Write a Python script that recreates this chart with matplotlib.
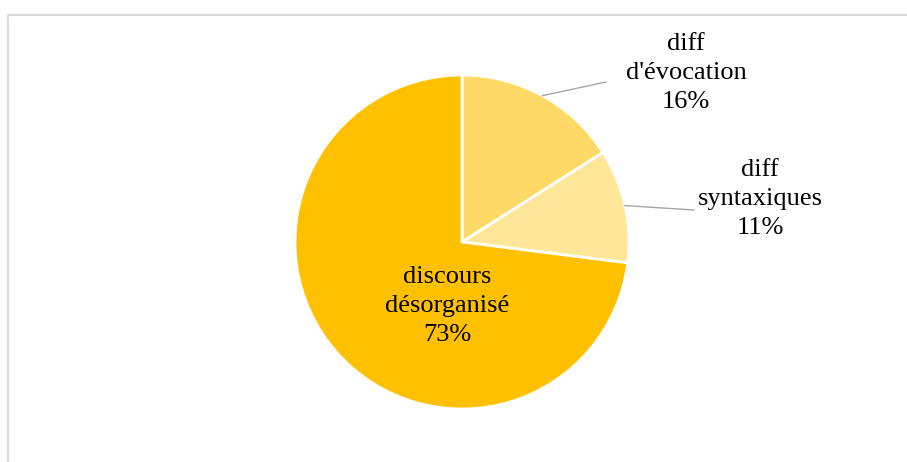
import numpy as np
import matplotlib.pyplot as plt
from matplotlib.patches import Rectangle

# data
labels = ["diff\nd'évocation", "diff\nsyntaxiques", "discours\ndésorganisé"]
values = [16, 11, 73]
colors = ['#FFD966', '#FFE699', '#FFC000']

plt.rcParams['font.family'] = ['Liberation Serif', 'DejaVu Serif']

W, H = 907, 462
fig = plt.figure(figsize=(W / 100, H / 100), dpi=100)

# light frame of the chart area (cropped at right/bottom)
fig.patches.append(Rectangle((8 / W, -0.1), 1.2, (H - 15) / H + 0.1,
                             transform=fig.transFigure, fill=False,
                             edgecolor='#D9D9D9', linewidth=1.5))

cx, cy, r = 462, 242, 167
ax = fig.add_axes([(cx - r) / W, (H - cy - r) / H, 2 * r / W, 2 * r / H])
wedges, _ = ax.pie(values, colors=colors, startangle=90, counterclock=False,
                   radius=1, wedgeprops=dict(edgecolor='white', linewidth=2))
ax.set_xlim(-1, 1)
ax.set_ylim(-1, 1)
ax.set_aspect('equal')
ax.axis('off')


def px(x, y):
    return ((x - cx) / r, (cy - y) / r)


text_pos = [px(686, 73), px(760, 199), px(447, 306)]
elbows = [px(606, 82), px(694, 210), None]

for w, lab, v, tp, el in zip(wedges, labels, values, text_pos, elbows):
    ang = np.deg2rad((w.theta1 + w.theta2) / 2)
    if el is not None:
        ex, ey = np.cos(ang), np.sin(ang)
        ax.plot([ex, el[0]], [ey, el[1]], color='#A6A6A6', lw=1, clip_on=False)
    ax.text(tp[0], tp[1], f"{lab}\n{v}%", ha='center', va='center',
            fontsize=19, linespacing=1.43, color='black', clip_on=False)

fig.savefig('out.png', dpi=100)
